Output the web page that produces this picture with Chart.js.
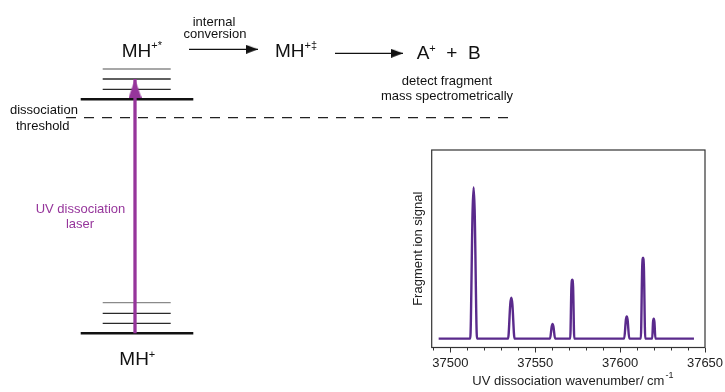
<!DOCTYPE html>
<html>
<head>
<meta charset="utf-8">
<script src="https://cdn.jsdelivr.net/npm/chart.js@4.4.1/dist/chart.umd.min.js"></script>
<style>
  html, body { margin: 0; padding: 0; background: #fff; overflow: hidden; }
  #wrap { position: relative; width: 725px; height: 392px; overflow: hidden; background: #fff; }
  #scheme { position: absolute; left: 0; top: 0; }
  #spectrum { position: absolute; left: 380px; top: 140px; }
</style>
</head>
<body>
<div id="wrap">
  <canvas id="scheme" width="725" height="392"></canvas>
  <canvas id="spectrum" width="370" height="252"></canvas>
</div>
<script>
// level scheme: energies in units of the vibrational spacing, ground state = 0
const groundLevel = 0;
const groundVib = [1.0, 2.0, 3.06];
const excitedLevel = 23.4;
const excitedVib = [24.4, 25.43, 26.43];
const dissThreshold = 21.56;
const laserTop = 25.43;

// photofragment spectrum (cm-1, arbitrary signal)
const wavenumber = [37493.1,
  37511.7, 37513.1, 37513.7, 37514.3, 37515.7,
  37534.0, 37535.3, 37535.9, 37536.5, 37537.8,
  37558.7, 37559.7, 37560.2, 37560.7, 37561.7,
  37570.6, 37571.3, 37571.8, 37572.3, 37573.0,
  37602.4, 37603.4, 37603.9, 37604.4, 37605.4,
  37612.2, 37613.0, 37613.5, 37614.0, 37614.8,
  37618.9, 37619.4, 37619.8, 37620.2, 37620.8,
  37643.5];
const signal = [0,
  0, 0.85, 1.0, 0.85, 0,
  0, 0.23, 0.27, 0.23, 0,
  0, 0.08, 0.097, 0.08, 0,
  0, 0.34, 0.39, 0.34, 0,
  0, 0.125, 0.147, 0.125, 0,
  0, 0.47, 0.536, 0.47, 0,
  0, 0.11, 0.131, 0.11, 0,
  0];
const xMajorStep = 50;
const xMinorStep = 10;

const FONT = "'Liberation Sans', Arial, Helvetica, sans-serif";
const PURPLE = '#96359b';
const SPEC = '#5a2a8c';

// arrowheads as point images, tip sits at the image centre
function headImage(w, h, color, vertical) {
  const c = document.createElement('canvas');
  if (vertical) { c.width = w; c.height = h * 2; } else { c.width = w * 2; c.height = h; }
  const g = c.getContext('2d');
  g.fillStyle = color;
  g.beginPath();
  if (vertical) {
    g.moveTo(w / 2, h);
    g.lineTo(w, h * 2);
    g.lineTo(0, h * 2);
  } else {
    g.moveTo(w, h / 2);
    g.lineTo(0, h);
    g.lineTo(0, 0);
  }
  g.closePath();
  g.fill();
  return c;
}
const blackHead = headImage(12, 9, '#111', false);
const purpleHead = headImage(13, 19, PURPLE, true);

function seg(x0, x1, e) {
  return [{x: x0, y: e}, {x: x1, y: e}];
}

const schemeSets = [];
schemeSets.push({
  data: [{x: 135, y: groundLevel}, {x: 135, y: laserTop}],
  borderColor: PURPLE, borderWidth: 3.3,
  pointRadius: [0, 6], pointStyle: purpleHead
});
schemeSets.push({ data: seg(80.7, 193.3, groundLevel), borderColor: '#111', borderWidth: 2.5 });
schemeSets.push({ data: seg(80.7, 193.3, excitedLevel), borderColor: '#111', borderWidth: 2.5 });
groundVib.concat(excitedVib).forEach((e, i) => {
  const top = (i === groundVib.length - 1) || (i === groundVib.length + excitedVib.length - 1);
  schemeSets.push({ data: seg(102.7, 170.7, e), borderColor: top ? '#8a8a8a' : '#2a2a2a', borderWidth: 1.3 });
});
schemeSets.push({ data: seg(66, 512, dissThreshold), borderColor: '#222', borderWidth: 1.2, borderDash: [10, 8] });
schemeSets.push({ data: seg(189, 258, 28.4), borderColor: '#111', borderWidth: 1.3, pointRadius: [0, 5], pointStyle: blackHead });
schemeSets.push({ data: seg(335, 403, 28.0), borderColor: '#111', borderWidth: 1.3, pointRadius: [0, 5], pointStyle: blackHead });

// text run with superscripts: parts = [[text, size, rise], ...]
function rich(ctx, parts, x, y) {
  parts.forEach(([t, size, rise]) => {
    ctx.font = size + 'px ' + FONT;
    ctx.fillText(t, x, y - rise);
    x += ctx.measureText(t).width;
  });
}

const schemeText = {
  id: 'schemeText',
  afterDraw(chart) {
    const ctx = chart.ctx;
    ctx.save();
    ctx.textBaseline = 'alphabetic';
    ctx.fillStyle = '#111';
    ctx.textAlign = 'center';
    ctx.font = '13px ' + FONT;
    ctx.fillText('internal', 214, 26);
    ctx.fillText('conversion', 215, 37.5);
    ctx.fillText('detect fragment', 447, 84.5);
    ctx.fillText('mass spectrometrically', 447, 100);
    ctx.textAlign = 'left';
    ctx.fillText('dissociation', 10, 114.3);
    ctx.fillText('threshold', 16, 129.5);

    rich(ctx, [['MH', 19, 0], ['+*', 11, 8]], 121.7, 57);
    rich(ctx, [['MH', 19, 0], ['+\u2021', 11, 8]], 275, 57.3);
    rich(ctx, [['A', 19, 0], ['+', 11, 7], ['  +  ', 19, 0], ['B', 19, 0]], 416.7, 59);
    rich(ctx, [['MH', 19, 0], ['+', 11, 7]], 119.3, 365);

    ctx.fillStyle = PURPLE;
    ctx.textAlign = 'center';
    ctx.font = '13px ' + FONT;
    ctx.fillText('UV dissociation', 80.5, 212.7);
    ctx.fillText('laser', 80, 228.3);
    ctx.restore();
  }
};

new Chart(document.getElementById('scheme'), {
  type: 'scatter',
  data: { datasets: schemeSets.map(d => Object.assign({ showLine: true, pointRadius: 0, fill: false }, d)) },
  options: {
    responsive: false,
    animation: false,
    events: [],
    layout: { padding: 0, autoPadding: false },
    plugins: { legend: { display: false }, tooltip: { enabled: false } },
    scales: {
      x: { type: 'linear', display: false, min: 0, max: 725 },
      y: { type: 'linear', display: false, min: -5.87, max: 33.33 }
    }
  },
  plugins: [schemeText]
});

// inset frame and the cm-1 exponent on the x title
const frame = {
  id: 'frame',
  afterDraw(chart) {
    const {ctx, chartArea: a} = chart;
    ctx.save();
    ctx.strokeStyle = '#333';
    ctx.lineWidth = 1.2;
    ctx.strokeRect(a.left, a.top, a.right - a.left, a.bottom - a.top);

    const xs = chart.scales.x;
    const t = xs.options.title;
    ctx.font = '13px ' + FONT;
    const w = ctx.measureText(t.text).width;
    const cx = (xs.left + xs.right) / 2;
    const ty = xs.bottom - t.padding.bottom - 15.6 / 2;
    ctx.fillStyle = '#222';
    ctx.font = '9px ' + FONT;
    ctx.textBaseline = 'middle';
    ctx.fillText('-1', cx + w / 2 + 1, ty - 6);
    ctx.restore();
  }
};

new Chart(document.getElementById('spectrum'), {
  type: 'scatter',
  data: {
    datasets: [{
      data: wavenumber.map((x, i) => ({x: x, y: signal[i]})),
      showLine: true,
      borderColor: SPEC,
      borderWidth: 2.4,
      pointRadius: 0,
      cubicInterpolationMode: 'monotone',
      fill: false
    }]
  },
  options: {
    responsive: false,
    animation: false,
    events: [],
    layout: { padding: { left: 0, top: 10, right: 45, bottom: 0 }, autoPadding: false },
    plugins: { legend: { display: false }, tooltip: { enabled: false } },
    scales: {
      x: {
        type: 'linear', position: 'bottom', weight: 1,
        min: 37489, max: 37650,
        border: { display: false },
        grid: { display: true, drawOnChartArea: false, drawTicks: true, tickLength: 5, color: '#333' },
        ticks: {
          stepSize: xMajorStep, includeBounds: false, autoSkip: false, maxRotation: 0,
          padding: 3, color: '#222', font: { family: FONT, size: 13 },
          callback: v => String(v)
        },
        title: {
          display: true, text: 'UV dissociation wavenumber/ cm', color: '#222',
          font: { family: FONT, size: 13 }, padding: { top: 0, bottom: 2.7 }
        },
        afterFit(s) { s.height = 44.5; }
      },
      xMinor: {
        type: 'linear', position: 'bottom', weight: 0,
        min: 37489, max: 37650,
        border: { display: false },
        grid: { display: true, drawOnChartArea: false, drawTicks: true, tickLength: 3, color: '#333' },
        ticks: { display: false, stepSize: xMinorStep, includeBounds: false, autoSkip: false },
        afterFit(s) { s.height = 0; }
      },
      y: {
        type: 'linear', position: 'left',
        min: -0.059, max: 1.248,
        border: { display: false },
        grid: { display: false },
        ticks: { display: false },
        title: {
          display: true, text: 'Fragment ion signal', color: '#222',
          font: { family: FONT, size: 13 }, padding: { top: 30.2, bottom: 0 }
        },
        afterFit(s) { s.width = 51.7; }
      }
    }
  },
  plugins: [frame]
});
</script>
</body>
</html>
